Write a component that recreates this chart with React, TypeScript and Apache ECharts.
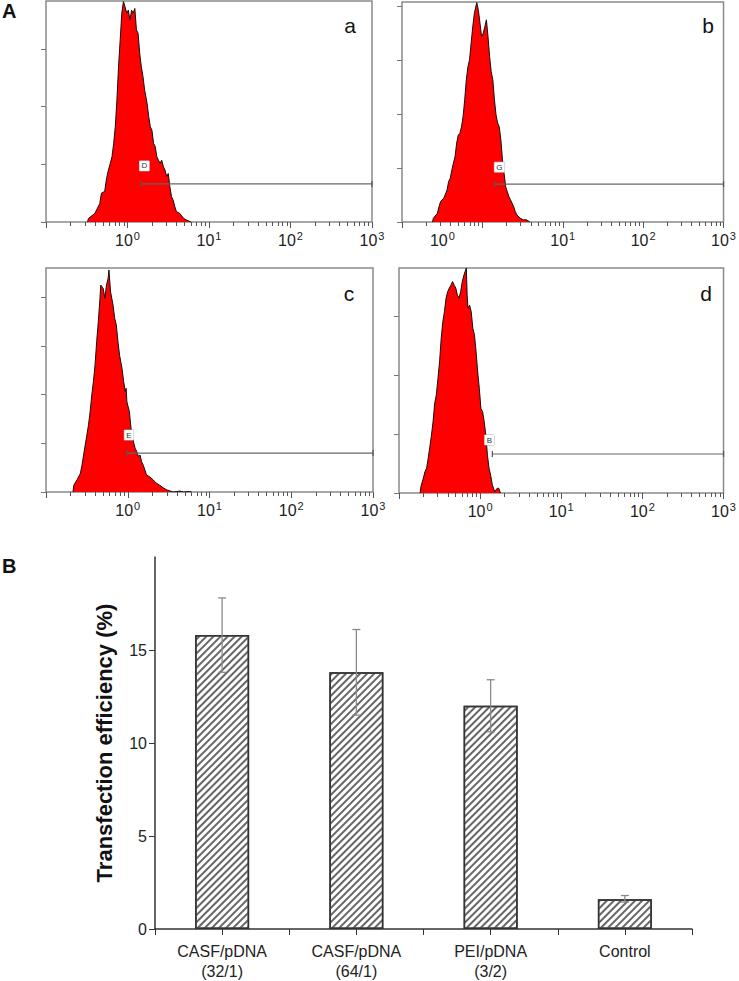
import React, { useEffect, useRef } from 'react';
import * as echarts from 'echarts';

// ---------- Panel A: flow cytometry histograms (x = log10 fluorescence, y = counts) ----------
const HIST_A: [number, number][] = [
  [-0.49, 0], [-0.48, 6], [-0.40, 15], [-0.34, 32], [-0.32, 50], [-0.28, 53], [-0.26, 73], [-0.24, 87],
  [-0.19, 113], [-0.17, 136], [-0.15, 165], [-0.13, 211], [-0.11, 269], [-0.09, 315], [-0.07, 362],
  [-0.05, 382], [-0.03, 373], [-0.01, 362], [0.01, 367], [0.03, 350], [0.05, 367], [0.07, 362], [0.09, 370],
  [0.11, 333], [0.13, 327], [0.15, 292], [0.17, 269], [0.19, 252], [0.21, 229], [0.24, 206], [0.26, 183],
  [0.28, 165], [0.30, 159], [0.32, 136], [0.34, 131], [0.36, 113], [0.38, 107], [0.40, 102], [0.42, 107],
  [0.44, 96], [0.46, 90], [0.48, 79], [0.50, 84], [0.52, 61], [0.54, 44], [0.56, 38], [0.58, 27],
  [0.60, 18], [0.64, 15], [0.69, 6], [0.73, 3], [0.78, 0]
];
const HIST_B: [number, number][] = [
  [-0.62, 0], [-0.61, 7], [-0.56, 16], [-0.54, 28], [-0.52, 38], [-0.48, 44], [-0.44, 59], [-0.42, 75],
  [-0.40, 81], [-0.38, 96], [-0.36, 109], [-0.34, 121], [-0.32, 146], [-0.30, 161], [-0.28, 164],
  [-0.26, 176], [-0.24, 195], [-0.22, 226], [-0.20, 263], [-0.18, 287], [-0.16, 300], [-0.14, 331],
  [-0.12, 361], [-0.10, 386], [-0.07, 406], [-0.05, 392], [-0.03, 368], [-0.01, 343], [0.01, 349],
  [0.03, 361], [0.05, 374], [0.07, 343], [0.09, 306], [0.11, 278], [0.13, 263], [0.15, 226], [0.17, 198],
  [0.19, 183], [0.21, 176], [0.23, 152], [0.25, 115], [0.27, 90], [0.29, 65], [0.31, 56], [0.33, 47],
  [0.35, 41], [0.39, 28], [0.41, 19], [0.43, 13], [0.47, 7], [0.51, 4], [0.55, 4], [0.59, 0]
];
const HIST_C: [number, number][] = [
  [-0.67, 0], [-0.66, 14], [-0.62, 25], [-0.58, 38], [-0.56, 55], [-0.54, 76], [-0.52, 97], [-0.50, 117],
  [-0.48, 138], [-0.46, 165], [-0.44, 199], [-0.42, 227], [-0.40, 261], [-0.38, 309], [-0.36, 350],
  [-0.34, 398], [-0.33, 425], [-0.30, 418], [-0.28, 398], [-0.26, 425], [-0.24, 439], [-0.23, 456],
  [-0.21, 411], [-0.18, 384], [-0.16, 357], [-0.14, 343], [-0.12, 309], [-0.10, 281], [-0.07, 254],
  [-0.05, 227], [-0.03, 206], [-0.02, 213], [-0.01, 185], [0.02, 165], [0.04, 131], [0.07, 103], [0.09, 90],
  [0.11, 83], [0.13, 73], [0.15, 76], [0.17, 62], [0.19, 55], [0.21, 45], [0.23, 35], [0.27, 31], [0.31, 25],
  [0.35, 18], [0.39, 14], [0.44, 8], [0.48, 4], [0.52, 2], [0.56, 0], [0.64, 2], [0.68, 0], [0.76, 1], [0.78, 0]
];
const HIST_D: [number, number][] = [
  [-0.74, 0], [-0.73, 11], [-0.70, 25], [-0.68, 36], [-0.66, 42], [-0.64, 59], [-0.62, 78], [-0.60, 98],
  [-0.58, 121], [-0.56, 152], [-0.54, 166], [-0.52, 194], [-0.50, 222], [-0.48, 262], [-0.46, 290],
  [-0.44, 307], [-0.42, 330], [-0.40, 341], [-0.38, 347], [-0.36, 352], [-0.34, 358], [-0.32, 352],
  [-0.30, 347], [-0.28, 335], [-0.26, 330], [-0.24, 341], [-0.22, 358], [-0.20, 369], [-0.17, 381],
  [-0.16, 335], [-0.15, 313], [-0.13, 318], [-0.11, 307], [-0.09, 279], [-0.07, 268], [-0.05, 239],
  [-0.03, 205], [-0.01, 177], [0.01, 143], [0.03, 138], [0.05, 121], [0.07, 98], [0.09, 64], [0.11, 42],
  [0.13, 30], [0.15, 14], [0.18, 2], [0.21, 8], [0.23, 8], [0.25, 0]
];

// gates: [start (log10), end (log10), level (counts)]
const GATE_A: [number, number, number] = [0.17, 3, 66];
const GATE_B: [number, number, number] = [0.15, 3, 70];
const GATE_C: [number, number, number] = [-0.01, 3, 80];
const GATE_D: [number, number, number] = [0.15, 3, 66];
const GATE_NAMES = ['D', 'G', 'E', 'B'];
const PANEL_LETTERS = ['a', 'b', 'c', 'd'];

const DECADES = [-1, 0, 1, 2, 3];
const LABEL_DECADES = [0, 1, 2, 3];
const MINOR_MULTIPLIERS = [2, 3, 4, 5, 6, 7, 8, 9];
const HIST_Y_TICKS = [0, 100, 200, 300, 400];

// ---------- Panel B: transfection efficiency ----------
const CATEGORIES = ['CASF/pDNA\n(32/1)', 'CASF/pDNA\n(64/1)', 'PEI/pDNA\n(3/2)', 'Control'];
const EFFICIENCY = [15.8, 13.8, 12.0, 1.6];
const ERR_LOW = [13.8, 11.5, 10.6, 1.45];
const ERR_HIGH = [17.8, 16.1, 13.4, 1.8];
const BAR_Y_TICKS = [0, 5, 10, 15];

const FONT = '"Liberation Sans", Arial, Helvetica, sans-serif';

export default function App() {
  const ref = useRef<HTMLDivElement>(null);

  useEffect(() => {
    if (!ref.current) return;
    const chart = echarts.init(ref.current, undefined, { renderer: 'svg' });

    const panels = [
      { grid: { left: 46, top: 1, width: 326, height: 221 }, yMax: 383, data: HIST_A, gate: GATE_A, gd: 10, go: [3, 0], lp: [350, 25], shift0: false },
      { grid: { left: 402, top: 2, width: 330, height: 220 }, yMax: 407, data: HIST_B, gate: GATE_B, gd: 9, go: [5, 0], lp: [708, 25], shift0: true },
      { grid: { left: 46, top: 268, width: 327, height: 224 }, yMax: 460, data: HIST_C, gate: GATE_C, gd: 10, go: [2, 0], lp: [349, 293], shift0: false },
      { grid: { left: 399, top: 268, width: 328, height: 225 }, yMax: 381, data: HIST_D, gate: GATE_D, gd: 6, go: [-3, 0], lp: [706, 293], shift0: false }
    ];

    const minorTicks: number[] = [];
    for (let n = -1; n < 3; n++) {
      MINOR_MULTIPLIERS.forEach((k) => minorTicks.push(n + Math.log10(k)));
    }

    const grids: any[] = [];
    const xAxes: any[] = [];
    const yAxes: any[] = [];
    const series: any[] = [];
    const graphics: any[] = [];

    const richLabel = {
      n: { fontSize: 16, lineHeight: 18, color: '#222', fontFamily: FONT, verticalAlign: 'bottom' },
      s: { fontSize: 11, lineHeight: 11, color: '#222', fontFamily: FONT, verticalAlign: 'top', padding: [0, 0, 0, 1] },
      gap: { width: 80, fontSize: 16, lineHeight: 18 }
    };

    panels.forEach((p, i) => {
      grids.push({ ...p.grid, show: true, borderColor: '#8a8a8a', borderWidth: 1.5, backgroundColor: 'transparent' });
      xAxes.push({
        gridIndex: i, type: 'value', min: -1, max: 3, position: 'bottom',
        axisLine: { show: false, onZero: false }, splitLine: { show: false },
        axisTick: { show: true, length: 6, customValues: DECADES, lineStyle: { color: '#555', width: 1 } },
        axisLabel: {
          customValues: LABEL_DECADES, fontSize: 16, color: '#222', margin: 8, fontFamily: FONT,
          formatter: (v: number) => {
            const e = Math.round(v);
            const s = '{n|10}{s|' + e + '}';
            return p.shift0 && e === 0 ? s + '{gap| }' : s;
          },
          rich: richLabel
        }
      });
      xAxes.push({
        gridIndex: i, type: 'value', min: -1, max: 3, position: 'bottom',
        axisLine: { show: false, onZero: false }, splitLine: { show: false }, axisLabel: { show: false },
        axisTick: { show: true, length: 4, customValues: minorTicks, lineStyle: { color: '#555', width: 1 } }
      });
      yAxes.push({
        gridIndex: i, type: 'value', min: 0, max: p.yMax, interval: 100, position: 'left',
        axisLine: { show: false, onZero: false }, splitLine: { show: false }, axisLabel: { show: false },
        axisTick: { show: true, length: 5, customValues: HIST_Y_TICKS.filter((t) => t <= p.yMax), lineStyle: { color: '#777' } }
      });
      series.push({
        type: 'line', xAxisIndex: 2 * i, yAxisIndex: i, data: p.data, symbol: 'none',
        lineStyle: { color: '#111', width: 1 }, areaStyle: { color: '#ff0000', opacity: 1 }, z: 2
      });
      const [g0, g1, lvl] = p.gate;
      series.push({
        type: 'line', xAxisIndex: 2 * i, yAxisIndex: i, clip: false, z: 3,
        symbol: 'rect', symbolSize: [1.2, 6], showSymbol: true,
        itemStyle: { color: '#555' }, lineStyle: { color: '#666', width: 1.2 },
        data: [
          {
            value: [g0, lvl],
            label: {
              show: true, formatter: GATE_NAMES[i], position: 'top', distance: p.gd, offset: p.go,
              fontSize: 8, color: '#333', backgroundColor: '#fff', borderColor: '#aaa', borderWidth: 0.5,
              padding: [1, 2], fontFamily: FONT
            }
          },
          [g1, lvl]
        ]
      });
      graphics.push({
        type: 'text', x: p.lp[0], y: p.lp[1],
        style: { text: PANEL_LETTERS[i], font: '21px ' + FONT, fill: '#111', textAlign: 'center', textVerticalAlign: 'middle' }
      });
    });

    // bar chart grid
    grids.push({ left: 155, top: 557, width: 537, height: 374 });
    const bx = xAxes.length;
    xAxes.push({
      gridIndex: 4, type: 'category', data: CATEGORIES, position: 'bottom',
      axisLine: { lineStyle: { color: '#333', width: 1.5 } },
      axisTick: { show: true, length: 6, lineStyle: { color: '#333' } },
      axisLabel: { fontSize: 16, color: '#222', lineHeight: 20, margin: 12, interval: 0, fontFamily: FONT }
    });
    xAxes.push({
      gridIndex: 4, type: 'category', data: CATEGORIES, position: 'bottom',
      axisLine: { show: false }, axisLabel: { show: false },
      axisTick: { show: true, alignWithLabel: true, length: 6, lineStyle: { color: '#333' } }
    });
    yAxes.push({
      gridIndex: 4, type: 'value', min: 0, max: 20, interval: 5,
      axisLine: { show: true, lineStyle: { color: '#333', width: 1.5 } },
      axisTick: { show: true, length: 6, customValues: BAR_Y_TICKS, lineStyle: { color: '#333' } },
      axisLabel: { customValues: BAR_Y_TICKS, fontSize: 16, color: '#222', margin: 8, fontFamily: FONT },
      splitLine: { show: false },
      name: 'Transfection efficiency (%)', nameLocation: 'middle', nameGap: 40,
      nameTextStyle: { fontSize: 22, fontWeight: 'bold', color: '#111', fontFamily: FONT }
    });
    series.push({
      type: 'bar', xAxisIndex: bx, yAxisIndex: 4, data: EFFICIENCY, barWidth: 54, z: 2,
      itemStyle: {
        color: '#fff', borderColor: '#333', borderWidth: 1.5,
        decal: {
          symbol: 'rect', symbolSize: 1, dashArrayX: [1, 0], dashArrayY: [1.1, 3],
          rotation: -Math.PI / 4, color: '#666', backgroundColor: null
        }
      }
    });
    series.push({
      type: 'custom', xAxisIndex: bx, yAxisIndex: 4, z: 5,
      data: CATEGORIES.map((_, i) => [i, ERR_LOW[i], ERR_HIGH[i]]),
      renderItem: (params: any, api: any) => {
        const x = api.value(0);
        const lo = api.coord([x, api.value(1)]);
        const hi = api.coord([x, api.value(2)]);
        const w = 4;
        const st = { stroke: '#8a8a8a', lineWidth: 1.3 };
        return {
          type: 'group',
          children: [
            { type: 'line', shape: { x1: lo[0], y1: lo[1], x2: hi[0], y2: hi[1] }, style: st },
            { type: 'line', shape: { x1: hi[0] - w, y1: hi[1], x2: hi[0] + w, y2: hi[1] }, style: st },
            { type: 'line', shape: { x1: lo[0] - w, y1: lo[1], x2: lo[0] + w, y2: lo[1] }, style: st }
          ]
        };
      }
    });

    graphics.push({ type: 'text', x: 2, y: 11, style: { text: 'A', font: 'bold 20px ' + FONT, fill: '#111', textAlign: 'left', textVerticalAlign: 'middle' } });
    graphics.push({ type: 'text', x: 2, y: 566, style: { text: 'B', font: 'bold 20px ' + FONT, fill: '#111', textAlign: 'left', textVerticalAlign: 'middle' } });

    chart.setOption({
      animation: false,
      backgroundColor: '#fff',
      textStyle: { fontFamily: FONT },
      grid: grids,
      xAxis: xAxes,
      yAxis: yAxes,
      series,
      graphic: graphics
    });

    return () => chart.dispose();
  }, []);

  return <div ref={ref} style={{ position: 'absolute', left: 0, top: 0, width: 739, height: 981 }} />;
}
